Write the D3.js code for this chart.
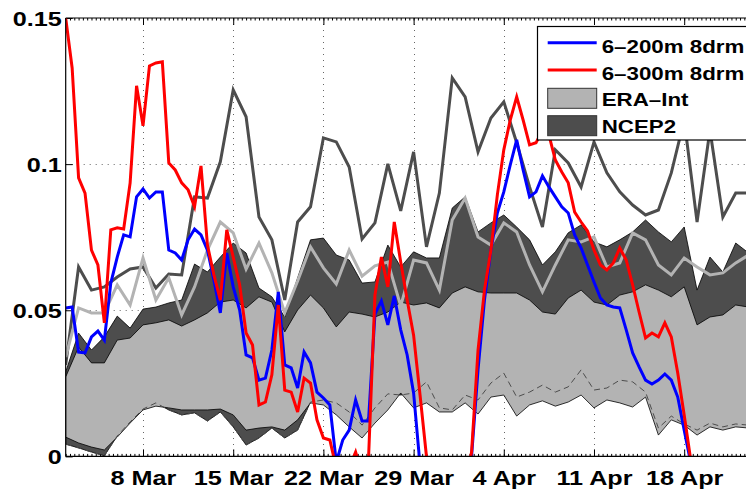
<!DOCTYPE html>
<html>
<head>
<meta charset="utf-8">
<script src="https://cdn.jsdelivr.net/npm/d3@7"></script>
<style>
  html, body { margin: 0; padding: 0; background: #fff; }
  svg { display: block; }
  text { font-family: "Liberation Sans", Arial, Helvetica, sans-serif; font-weight: bold; fill: #000; }
</style>
</head>
<body>
<svg id="chart" width="746" height="489"></svg>
<script>
// Day numbers count from 1 Mar = 1; daily series start on 2 Mar.
const tickDays   = [8, 15, 22, 29, 36, 43, 50];
const tickLabels = ["8 Mar", "15 Mar", "22 Mar", "29 Mar", "4 Apr", "11 Apr", "18 Apr"];
const yTicks     = [0, 0.05, 0.1, 0.15];
const yTickLabels = ["0", "0.05", "0.1", "0.15"];

// Daily reanalysis envelopes
const ncepHigh = [0.0289,0.0422,0.0364,0.0409,0.0480,0.0439,0.0504,0.0511,0.0525,0.0535,
  0.0658,0.0631,0.0682,0.0730,0.0696,0.0576,0.0546,0.0477,0.0611,0.0741,
  0.0747,0.0689,0.0672,0.0593,0.0597,0.0723,0.0648,0.0700,0.0679,0.0679,
  0.0850,0.0888,0.0768,0.0799,0.0826,0.0785,0.0741,0.0655,0.0700,0.0765,
  0.0792,0.0734,0.0717,0.0741,0.0768,0.0809,0.0768,0.0734,0.0785,0.0569,
  0.0682,0.0631,0.0730,0.0696];
const ncepLow = [0.0042,0.0029,0.0015,0.0002,0.0070,0.0118,0.0162,0.0183,0.0159,0.0142,
  0.0149,0.0121,0.0152,0.0101,0.0039,0.0063,0.0097,0.0063,0.0090,0.0186,
  0.0193,0.0183,0.0152,0.0107,0.0166,0.0214,0.0210,0.0217,0.0255,0.0166,
  0.0159,0.0210,0.0193,0.0251,0.0285,0.0203,0.0220,0.0244,0.0220,0.0238,
  0.0296,0.0227,0.0234,0.0261,0.0255,0.0220,0.0097,0.0138,0.0111,0.0090,
  0.0114,0.0101,0.0111,0.0107];
const eraHigh = [0.0272,0.0374,0.0320,0.0320,0.0398,0.0405,0.0450,0.0457,0.0467,0.0446,
  0.0467,0.0491,0.0528,0.0535,0.0508,0.0546,0.0528,0.0426,0.0501,0.0552,
  0.0508,0.0443,0.0494,0.0487,0.0477,0.0494,0.0528,0.0518,0.0525,0.0508,
  0.0559,0.0580,0.0563,0.0559,0.0559,0.0559,0.0535,0.0494,0.0487,0.0542,
  0.0569,0.0528,0.0518,0.0552,0.0563,0.0587,0.0569,0.0546,0.0580,0.0450,
  0.0477,0.0484,0.0518,0.0511];
const eraLow = [0.0066,0.0046,0.0032,0.0022,0.0066,0.0114,0.0159,0.0172,0.0166,0.0159,
  0.0159,0.0159,0.0162,0.0142,0.0090,0.0097,0.0101,0.0090,0.0125,0.0183,
  0.0176,0.0142,0.0101,0.0063,0.0114,0.0159,0.0217,0.0166,0.0183,0.0152,
  0.0152,0.0183,0.0145,0.0203,0.0210,0.0138,0.0176,0.0190,0.0172,0.0186,
  0.0210,0.0166,0.0193,0.0183,0.0169,0.0203,0.0073,0.0125,0.0107,0.0073,
  0.0101,0.0090,0.0101,0.0097];
// Daily maxima
const ncepMax = [0.0313,0.0648,0.0569,0.0580,0.0614,0.0641,0.0648,0.0576,0.0624,0.0621,
  0.0888,0.0884,0.1008,0.1254,0.1162,0.0819,0.0741,0.0535,0.0802,0.0854,
  0.1090,0.1076,0.0990,0.0744,0.0799,0.1001,0.0840,0.1042,0.0717,0.0901,
  0.1295,0.1230,0.1042,0.1158,0.1213,0.1073,0.0922,0.0785,0.1049,0.1004,
  0.0922,0.1076,0.0970,0.0905,0.0860,0.0826,0.0843,0.0970,0.1151,0.0802,
  0.1117,0.0819,0.0901,0.0901];
const eraMax = [0.0340,0.0508,0.0491,0.0491,0.0587,0.0518,0.0679,0.0535,0.0611,0.0484,
  0.0580,0.0706,0.0802,0.0765,0.0641,0.0730,0.0628,0.0491,0.0600,0.0717,
  0.0645,0.0590,0.0706,0.0617,0.0652,0.0665,0.0515,0.0672,0.0662,0.0569,
  0.0809,0.0884,0.0751,0.0723,0.0799,0.0768,0.0655,0.0563,0.0655,0.0741,
  0.0734,0.0751,0.0648,0.0662,0.0765,0.0741,0.0655,0.0621,0.0679,0.0648,
  0.0621,0.0628,0.0662,0.0689];

// 12-hourly mooring estimates
const m300 = [0.1500,0.1329,0.0953,0.0901,0.0706,0.0655,0.0457,0.0775,0.0782,0.0778,
  0.0936,0.1268,0.1131,0.1336,0.1346,0.1350,0.1004,0.0980,0.0936,0.0912,
  0.0854,0.0994,0.0723,0.0621,0.0535,0.0775,0.0682,0.0587,0.0422,0.0381,
  0.0176,0.0186,0.0279,0.0518,0.0227,0.0220,0.0152,0.0268,0.0251,0.0125,
  0.0063,0.0056,-0.0040,-0.0080,-0.0040,0.0015,-0.0060,-0.0010,0.0552,0.0682,
  0.0580,0.0802,0.0665,0.0535,0.0415,0.0210,0.0000,-0.0100,-0.0200,-0.0200,
  -0.0200,-0.0200,-0.0100,0.0015,0.0364,0.0569,0.0706,0.0895,0.1049,0.1151,
  0.1230,0.1151,0.1066,0.1073,0.1117,0.1100,0.1014,0.0973,0.0936,0.0836,
  0.0802,0.0771,0.0706,0.0655,0.0638,0.0662,0.0713,0.0672,0.0587,0.0494,
  0.0405,0.0422,0.0409,0.0457,0.0409,0.0285,0.0142,-0.0010,-0.0120];
const m200 = [0.0508,0.0511,0.0357,0.0354,0.0409,0.0429,0.0398,0.0593,0.0682,0.0758,
  0.0751,0.0888,0.0915,0.0884,0.0905,0.0905,0.0706,0.0696,0.0672,0.0741,
  0.0778,0.0758,0.0706,0.0604,0.0491,0.0696,0.0580,0.0501,0.0347,0.0337,
  0.0261,0.0268,0.0364,0.0563,0.0313,0.0303,0.0234,0.0357,0.0320,0.0220,
  0.0200,0.0176,-0.0020,0.0056,0.0090,0.0193,0.0121,0.0121,0.0487,0.0532,
  0.0450,0.0549,0.0433,0.0347,0.0217,-0.0030,-0.0200,-0.0200,-0.0200,-0.0200,
  -0.0200,-0.0200,-0.0100,0.0000,0.0296,0.0535,0.0706,0.0833,0.0905,0.0997,
  0.1083,0.0980,0.0888,0.0905,0.0960,0.0922,0.0888,0.0854,0.0833,0.0758,
  0.0713,0.0655,0.0597,0.0542,0.0518,0.0511,0.0508,0.0433,0.0354,0.0306,
  0.0261,0.0248,0.0261,0.0282,0.0261,0.0203,0.0090,-0.0020,-0.0150];

const legendItems = [
  { label: "6\u2013200m 8drm", kind: "line",  color: "#0000ff" },
  { label: "6\u2013300m 8drm", kind: "line",  color: "#ff0000" },
  { label: "ERA\u2013Int",     kind: "patch", color: "#b3b3b3" },
  { label: "NCEP2",            kind: "patch", color: "#4d4d4d" }
];

const STRETCH = 1.2;   // wide bold lettering
const svg = d3.select("#chart");
const plotLeft = 65.7, plotTop = 18, plotBottom = 456.4, plotRight = 761.5;

const x = d3.scaleLinear().domain([2, 56]).range([plotLeft, plotRight]);
const y = d3.scaleLinear().domain([0, 0.15]).range([plotBottom, plotTop]);

const daily = ncepHigh.map((_, i) => 2 + i);
const halfDaily = m300.map((_, i) => 2 + i / 2);

svg.append("defs").append("clipPath").attr("id", "plotClip")
  .append("rect").attr("x", plotLeft).attr("y", plotTop)
  .attr("width", plotRight - plotLeft).attr("height", plotBottom - plotTop);

// dotted grid
const grid = svg.append("g").attr("stroke", "#333").attr("stroke-width", 1)
  .attr("stroke-dasharray", "1 5").attr("opacity", 0.75);
grid.selectAll("line.gx").data(tickDays).join("line")
  .attr("x1", d => Math.round(x(d)) + 0.5).attr("x2", d => Math.round(x(d)) + 0.5)
  .attr("y1", plotTop).attr("y2", plotBottom);
grid.selectAll("line.gy").data([0.05, 0.1]).join("line")
  .attr("x1", plotLeft).attr("x2", plotRight)
  .attr("y1", d => Math.round(y(d)) + 0.5).attr("y2", d => Math.round(y(d)) + 0.5);

// minor ticks on top and bottom edges
const minorDays = d3.range(2, 56, 1 / 3);
svg.append("g").attr("transform", `translate(0,${plotBottom})`)
  .call(d3.axisBottom(x).tickValues(minorDays).tickSize(-2.5).tickFormat(""))
  .call(g => g.select(".domain").remove());
svg.append("g").attr("transform", `translate(0,${plotTop})`)
  .call(d3.axisTop(x).tickValues(minorDays).tickSize(-2.5).tickFormat(""))
  .call(g => g.select(".domain").remove());

// major ticks and labels
const xAxis = svg.append("g").attr("transform", `translate(0,${plotBottom})`)
  .call(d3.axisBottom(x).tickValues(tickDays).tickFormat((d, i) => tickLabels[i])
    .tickSizeInner(-7).tickSizeOuter(0));
xAxis.select(".domain").remove();
xAxis.selectAll("text").attr("font-size", 21).attr("y", 28.6).attr("dy", 0)
  .attr("transform", `scale(${STRETCH},1)`);

svg.append("g").attr("transform", `translate(0,${plotTop})`)
  .call(d3.axisTop(x).tickValues(tickDays).tickFormat("").tickSizeInner(-7).tickSizeOuter(0))
  .call(g => g.select(".domain").remove());

const yAxis = svg.append("g").attr("transform", `translate(${plotLeft},0)`)
  .call(d3.axisLeft(y).tickValues(yTicks).tickFormat((d, i) => yTickLabels[i])
    .tickSizeInner(-7).tickSizeOuter(0));
yAxis.select(".domain").remove();
yAxis.selectAll("text").attr("font-size", 21).attr("x", -4 / STRETCH)
  .attr("dy", "0.36em").attr("transform", `scale(${STRETCH},1)`);
svg.selectAll(".tick line").attr("stroke", "#000");

// data layer
const plot = svg.append("g").attr("clip-path", "url(#plotClip)");

const band = (lo, hi) => d3.area().x((d, i) => x(daily[i]))
  .y0((d, i) => y(lo[i])).y1((d, i) => y(hi[i]));
const dayLine = arr => d3.line().x((d, i) => x(daily[i])).y((d, i) => y(arr[i]));
const halfLine = arr => d3.line().x((d, i) => x(halfDaily[i])).y((d, i) => y(arr[i]));

plot.append("path").datum(ncepHigh).attr("d", band(ncepLow, ncepHigh))
  .attr("fill", "#4d4d4d").attr("stroke", "#000").attr("stroke-width", 0.8);
plot.append("path").datum(eraHigh).attr("d", band(eraLow, eraHigh))
  .attr("fill", "#b3b3b3").attr("stroke", "#000").attr("stroke-width", 0.8);
plot.append("path").datum(ncepLow).attr("d", dayLine(ncepLow))
  .attr("fill", "none").attr("stroke", "#4d4d4d").attr("stroke-width", 1)
  .attr("stroke-dasharray", "6 4");

plot.append("path").datum(ncepMax).attr("d", dayLine(ncepMax))
  .attr("fill", "none").attr("stroke", "#4d4d4d").attr("stroke-width", 3);
plot.append("path").datum(eraMax).attr("d", dayLine(eraMax))
  .attr("fill", "none").attr("stroke", "#b3b3b3").attr("stroke-width", 3);

plot.append("path").datum(m200).attr("d", halfLine(m200))
  .attr("fill", "none").attr("stroke", "#0000ff").attr("stroke-width", 3);
plot.append("path").datum(m300).attr("d", halfLine(m300))
  .attr("fill", "none").attr("stroke", "#ff0000").attr("stroke-width", 3);

// axis frame
svg.append("g").attr("stroke", "#000").attr("stroke-width", 1.2)
  .call(g => g.append("line").attr("x1", plotLeft).attr("x2", plotRight).attr("y1", plotTop).attr("y2", plotTop))
  .call(g => g.append("line").attr("x1", plotLeft).attr("x2", plotRight).attr("y1", plotBottom).attr("y2", plotBottom))
  .call(g => g.append("line").attr("x1", plotLeft).attr("x2", plotLeft).attr("y1", plotTop).attr("y2", plotBottom));

// legend
const lg = svg.append("g");
lg.append("rect").attr("x", 537.5).attr("y", 26.5).attr("width", 260).attr("height", 113.5)
  .attr("fill", "#fff").attr("stroke", "#000").attr("stroke-width", 1.2);
const rowY = [42.7, 70, 98.3, 125.7];
const baseY = [52.7, 80, 106, 133.3];
legendItems.forEach((it, i) => {
  if (it.kind === "line") {
    lg.append("line").attr("x1", 547.7).attr("x2", 596.7)
      .attr("y1", rowY[i]).attr("y2", rowY[i])
      .attr("stroke", it.color).attr("stroke-width", 3);
  } else {
    lg.append("rect").attr("x", 547.7).attr("y", rowY[i] - 10).attr("width", 49).attr("height", 20)
      .attr("fill", it.color).attr("stroke", "#333").attr("stroke-width", 1);
  }
  lg.append("text").attr("transform", `translate(601.7,${baseY[i]}) scale(${STRETCH},1)`)
    .attr("font-size", 18.6).text(it.label);
});
</script>
</body>
</html>
